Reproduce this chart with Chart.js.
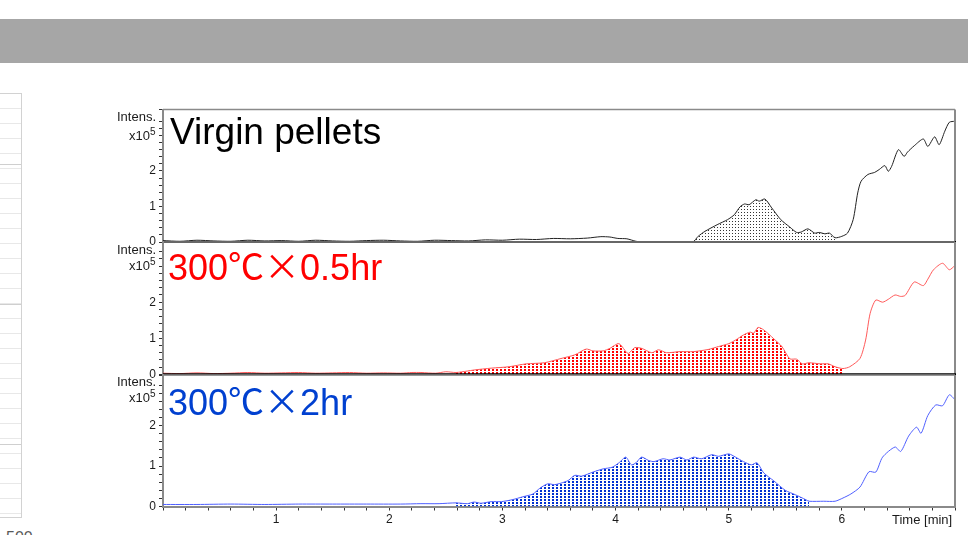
<!DOCTYPE html>
<html><head><meta charset="utf-8">
<script src="https://cdn.jsdelivr.net/npm/chart.js@4.4.1/dist/chart.umd.min.js"></script>
<style>
html,body{margin:0;padding:0;background:#fff;}
body{width:968px;height:535px;overflow:hidden;position:relative;font-family:"Liberation Sans",Arial,sans-serif;}
.bar{position:absolute;left:0;top:19px;width:968px;height:44px;background:#a6a6a6;}
.side{position:absolute;left:-1px;top:93px;width:21px;height:423px;border:1px solid #d2d2d2;
 background-image:repeating-linear-gradient(to bottom,transparent 0,transparent 70px,#cfcfcf 70px,#cfcfcf 71px,transparent 71px,transparent 140px),
 repeating-linear-gradient(to bottom,transparent 0,transparent 14px,#e8e8e8 14px,#e8e8e8 15px);}
.cw{position:absolute;left:0;}
.cw canvas{display:block;}
.t{position:absolute;white-space:nowrap;line-height:13px;font-size:13px;color:#1a1a1a;}
.sup{font-size:10px;position:relative;top:-5px;}
.title{position:absolute;white-space:nowrap;font-size:36px;line-height:36px;}
.cjk{font-family:"Noto Sans CJK JP",sans-serif;}
.small500{position:absolute;left:6px;top:530px;font-size:16px;line-height:16px;color:#595959;}
</style>
</head><body>
<div class="bar"></div>
<div class="side"></div>
<div class="small500">500</div>

<div class="cw" style="top:95px"><canvas id="c1" width="968" height="160"></canvas></div>
<div class="cw" style="top:228px"><canvas id="c2" width="968" height="162"></canvas></div>
<div class="cw" style="top:361px"><canvas id="c3" width="968" height="174"></canvas></div>

<div class="t" style="left:117px;top:110px;">Intens.</div>
<div class="t" style="left:129px;top:129px;">x10<span class="sup">5</span></div>
<div class="t" style="left:117px;top:243px;">Intens.</div>
<div class="t" style="left:129px;top:259px;">x10<span class="sup">5</span></div>
<div class="t" style="left:117px;top:375px;">Intens.</div>
<div class="t" style="left:129px;top:391px;">x10<span class="sup">5</span></div>
<div class="t" style="left:892px;top:513px;">Time [min]</div>

<div class="title" style="left:170px;top:114px;color:#000;font-size:37px;">Virgin pellets</div>
<div class="title" style="left:168px;top:246px;color:#ff0000;">300<span class="cjk">℃×</span>0.5hr</div>
<div class="title" style="left:168px;top:381px;color:#0040d0;">300<span class="cjk">℃×</span>2hr</div>

<script>
// ---------- data (time in min, intensity in x10^5) ----------
const xLabelValues = [1, 2, 3, 4, 5, 6];
const yLabelValues = [0, 1, 2];
const timeMin = 0, timeMax = 7.0;

const virginTime = [0,0.15,0.3,0.45,0.6,0.75,0.9,1.05,1.2,1.35,1.5,1.65,1.8,1.95,2.1,2.25,2.4,2.55,2.7,2.85,3.0,3.15,3.3,3.45,3.6,3.75,3.87,3.95,4.02,4.1,4.18,4.25,4.68,4.73,4.79,4.90,4.99,5.05,5.10,5.14,5.18,5.24,5.27,5.32,5.38,5.46,5.54,5.60,5.64,5.70,5.76,5.80,5.85,5.89,5.94,6.00,6.05,6.10,6.14,6.17,6.23,6.29,6.33,6.38,6.41,6.44,6.50,6.55,6.58,6.64,6.72,6.76,6.82,6.86,6.91,6.95,7.00];
const virginInt  = [0.04,0.02,0.05,0.03,0.02,0.05,0.03,0.04,0.02,0.05,0.03,0.02,0.04,0.05,0.03,0.02,0.05,0.04,0.03,0.06,0.05,0.08,0.07,0.10,0.09,0.11,0.15,0.14,0.10,0.09,0.02,0,0,0.16,0.30,0.49,0.63,0.77,0.99,1.07,1.05,1.19,1.15,1.21,0.96,0.63,0.42,0.27,0.28,0.37,0.25,0.27,0.23,0.25,0.12,0.16,0.25,0.63,1.38,1.71,1.90,1.96,2.04,2.15,1.99,2.13,2.60,2.41,2.53,2.71,2.90,2.69,2.96,2.74,3.12,3.37,3.40];
const virginPeak = [4.68, 5.94];

const halfTime = [0,0.15,0.3,0.45,0.6,0.75,0.9,1.05,1.2,1.35,1.5,1.65,1.8,1.95,2.1,2.2,2.28,2.41,2.50,2.59,2.69,2.75,2.90,3.06,3.21,3.37,3.52,3.64,3.74,3.80,3.89,3.95,4.03,4.11,4.17,4.23,4.32,4.38,4.45,4.57,4.69,4.82,4.91,5.00,5.06,5.13,5.19,5.22,5.26,5.31,5.40,5.47,5.54,5.60,5.65,5.71,5.81,5.88,5.94,6.01,6.07,6.16,6.21,6.25,6.30,6.36,6.41,6.47,6.52,6.56,6.64,6.72,6.76,6.81,6.89,6.95,7.00];
const halfInt  = [0.03,0.02,0.04,0.02,0.03,0.05,0.03,0.04,0.05,0.03,0.04,0.05,0.03,0.04,0.03,0.05,0.05,0.03,0.07,0.05,0.09,0.12,0.17,0.21,0.29,0.32,0.44,0.54,0.70,0.65,0.65,0.72,0.85,0.58,0.74,0.72,0.60,0.68,0.60,0.63,0.63,0.69,0.77,0.85,0.95,1.09,1.17,1.14,1.30,1.23,0.98,0.77,0.43,0.42,0.29,0.32,0.29,0.29,0.21,0.16,0.21,0.44,0.95,1.69,2.06,2.00,2.08,2.20,2.16,2.19,2.56,2.46,2.64,2.90,3.08,2.90,3.02];
const halfPeak = [2.59, 6.01];

const twoTime = [0,0.3,0.6,0.9,1.2,1.5,1.8,2.1,2.28,2.44,2.59,2.69,2.75,2.81,2.90,2.99,3.09,3.18,3.27,3.33,3.40,3.46,3.52,3.58,3.64,3.70,3.80,3.89,3.97,4.03,4.09,4.14,4.18,4.23,4.29,4.34,4.42,4.48,4.57,4.63,4.69,4.76,4.85,4.91,5.00,5.06,5.13,5.20,5.25,5.31,5.40,5.50,5.59,5.68,5.71,5.84,5.94,6.01,6.08,6.16,6.24,6.30,6.36,6.47,6.52,6.59,6.66,6.70,6.76,6.83,6.89,6.95,7.00];
const twoInt  = [0.05,0.05,0.06,0.05,0.06,0.06,0.06,0.06,0.07,0.07,0.09,0.07,0.11,0.08,0.12,0.12,0.17,0.24,0.31,0.45,0.56,0.54,0.58,0.64,0.77,0.75,0.85,0.93,0.97,1.08,1.22,1.03,1.08,1.22,1.14,1.11,1.18,1.15,1.22,1.15,1.22,1.18,1.28,1.24,1.30,1.22,1.11,1.03,1.08,0.83,0.63,0.40,0.29,0.17,0.13,0.13,0.13,0.21,0.31,0.48,0.86,0.85,1.22,1.47,1.36,1.74,1.96,1.81,2.25,2.51,2.49,2.76,2.64];
const twoPeak = [2.55, 5.72];

const yMaxTop = 3.73, yMaxMid = 3.67, yMaxBot = 3.25;

// ---------- helpers ----------
const FONT = '"Liberation Sans", Arial, sans-serif';
function dots(color, tw, th, dw, dh) {
  const c = document.createElement('canvas');
  c.width = tw; c.height = th;
  const g = c.getContext('2d');
  g.fillStyle = color;
  g.fillRect(0, 0, dw, dh);
  return g.createPattern(c, 'repeat');
}
const near = (v, list) => list.some(k => Math.abs(v - k) < 1e-6);

const frame = {
  id: 'frame',
  afterDatasetsDraw(chart, args, opts) {
    const {ctx, chartArea: a} = chart;
    ctx.save();
    ctx.strokeStyle = '#8a8a8a';
    ctx.lineWidth = 1.5;
    ctx.beginPath(); ctx.moveTo(a.left, a.top); ctx.lineTo(a.right, a.top); ctx.stroke();
    ctx.lineWidth = 2;
    ctx.beginPath(); ctx.moveTo(a.right, a.top); ctx.lineTo(a.right, a.bottom); ctx.stroke();
    if (opts.bottomBlack) {
      ctx.strokeStyle = '#000';
      ctx.lineWidth = 2;
      ctx.beginPath(); ctx.moveTo(a.left, a.bottom); ctx.lineTo(a.right + 1, a.bottom); ctx.stroke();
    }
    ctx.restore();
  }
};

function makeChart(id, times, vals, peak, lineColor, pattern, ymax, showX, pad) {
  const pts = times.map((t, i) => ({x: t, y: vals[i]}));
  const peakPts = pts.filter(p => p.x >= peak[0] - 1e-9 && p.x <= peak[1] + 1e-9);
  return new Chart(document.getElementById(id), {
    type: 'line',
    data: {datasets: [
      {data: pts, borderColor: lineColor, borderWidth: 1, pointRadius: 0, tension: 0.25, fill: false, order: 0},
      {data: peakPts, borderWidth: 0, borderColor: 'rgba(0,0,0,0)', pointRadius: 0, tension: 0.25, fill: 'origin', backgroundColor: pattern, order: 1}
    ]},
    options: {
      responsive: false, animation: false, events: [],
      layout: {padding: pad},
      plugins: {legend: {display: false}, tooltip: {enabled: false}, frame: {bottomBlack: !showX}},
      scales: {
        x: {
          type: 'linear', min: timeMin, max: timeMax, display: showX,
          ticks: {stepSize: 0.2, maxTicksLimit: 1000, autoSkip: false, maxRotation: 0, padding: 2,
            callback: v => near(v, xLabelValues) ? String(Math.round(v)) : '',
            font: {family: FONT, size: 12}, color: '#1a1a1a'},
          grid: {drawOnChartArea: false, drawTicks: true, tickLength: 4, tickColor: '#333'},
          border: {color: '#8a8a8a', width: 2},
          afterFit: s => { if (showX) s.height = 20; }
        },
        y: {
          type: 'linear', min: 0, max: ymax,
          ticks: {stepSize: 0.2, maxTicksLimit: 1000, autoSkip: false, padding: 3,
            callback: v => near(v, yLabelValues) ? String(Math.round(v)) : '',
            font: {family: FONT, size: 12}, color: '#1a1a1a'},
          grid: {drawOnChartArea: false, drawTicks: true, tickLength: 4, tickColor: '#333'},
          border: {color: '#8a8a8a', width: 2},
          afterFit: s => { s.width = 40; }
        }
      }
    },
    plugins: [frame]
  });
}

makeChart('c1', virginTime, virginInt, virginPeak, '#222222', dots('#333333', 3, 3, 1, 1), yMaxTop, false,
  {left: 123, right: 13, top: 14.5, bottom: 13});
makeChart('c2', halfTime, halfInt, halfPeak, '#ff5a5a', dots('#ff0000', 4, 3, 2, 2), yMaxMid, false,
  {left: 123, right: 13, top: 14, bottom: 15.7});
makeChart('c3', twoTime, twoInt, twoPeak, '#4f5fff', dots('#0030d0', 4, 3, 2, 2), yMaxBot, true,
  {left: 123, right: 13, top: 14, bottom: 8.5});
</script>
</body></html>
